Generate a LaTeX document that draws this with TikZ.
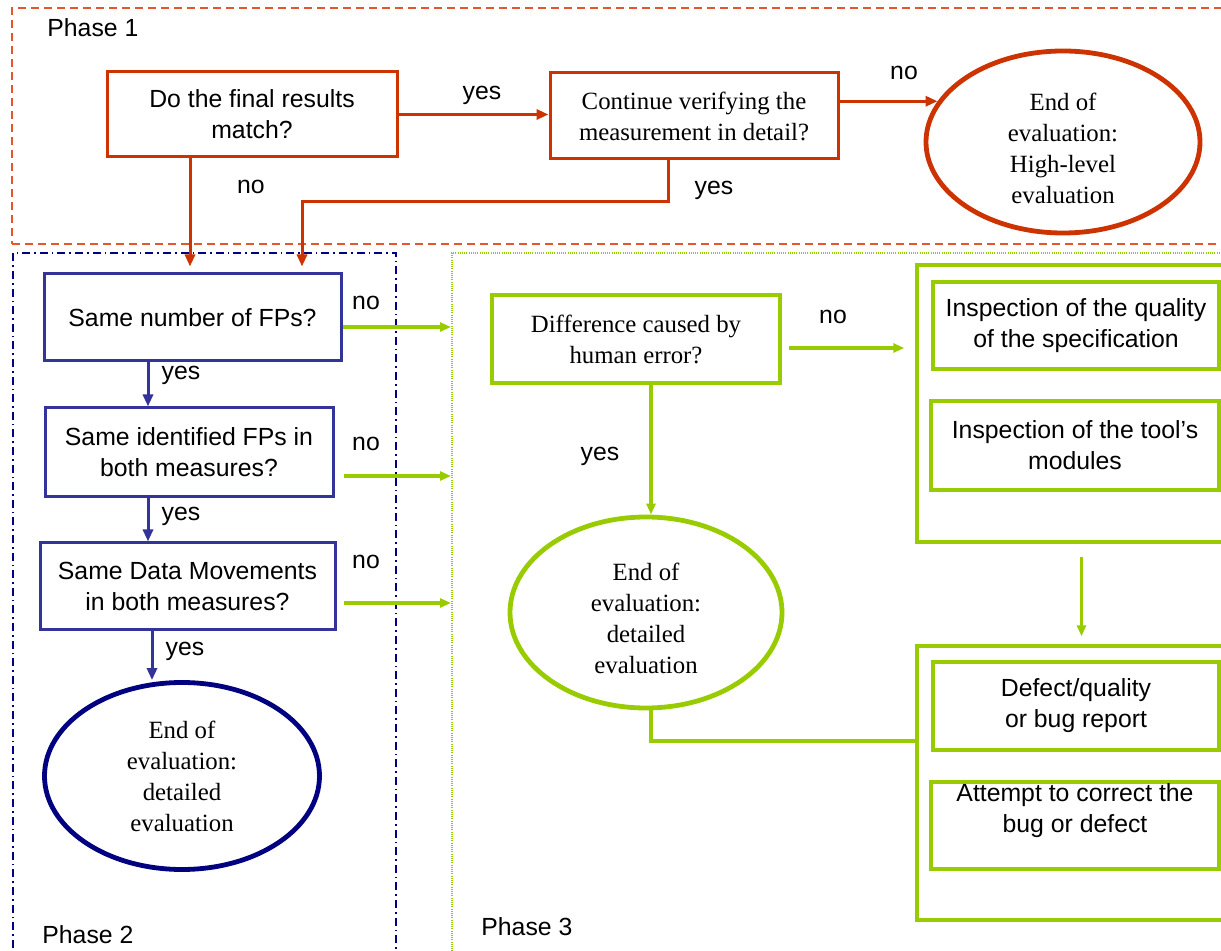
\documentclass[tikz,border=0pt]{standalone}
\usepackage{fontspec}
\setmainfont{Liberation Serif}
\setsansfont{Liberation Sans}
\usetikzlibrary{arrows.meta,shapes.geometric}

\definecolor{phred}{HTML}{CC3300}
\definecolor{phframe}{HTML}{E4572E}
\definecolor{phblue}{HTML}{333399}
\definecolor{phnavy}{HTML}{000080}
\definecolor{phgreen}{HTML}{99CC00}

\begin{document}
\begin{tikzpicture}[x=0.5pt,y=-0.5pt,
  font=\sffamily\fontsize{12.4}{15.5}\selectfont,
  q/.style={rectangle,draw,line width=1.5pt,align=center,inner sep=0pt},
  qs/.style={q,font=\rmfamily\fontsize{12.4}{15.5}\selectfont},
  qg/.style={q,draw=phgreen,line width=1.7pt},
  e/.style={ellipse,draw,line width=2.4pt,align=center,inner sep=0pt,
    font=\rmfamily\fontsize{12.4}{15.5}\selectfont},
  etxt/.style={inner sep=0pt,align=center,yshift=-3pt,
    font=\rmfamily\fontsize{12.4}{15.5}\selectfont},
  lbl/.style={inner sep=0pt},
  rarr/.style={-{Triangle[length=6pt,width=5pt]},draw=phred,line width=1.5pt},
  barr/.style={-{Triangle[length=6pt,width=5pt]},draw=phblue,line width=1.5pt},
  garr/.style={-{Triangle[length=5.5pt,width=4.5pt]},draw=phgreen,line width=1.7pt},
  gline/.style={draw=phgreen,line width=1.7pt}]
\useasboundingbox (0,0) rectangle (1221,951);
\clip (0,0) rectangle (1221,951);
% phase frames
\node[draw=phframe,line width=0.8pt,dash pattern=on 4pt off 2.5pt,
  minimum width=614pt,minimum height=118pt,inner sep=0pt] (P1) at (626,126) {};
\node[draw=phnavy,line width=0.8pt,dash pattern=on 4pt off 2pt on 0.8pt off 2pt,
  minimum width=191.5pt,minimum height=356pt,inner sep=0pt] (P2) at (204.5,609) {};
\node[draw=phgreen,line width=1pt,dash pattern=on 0.5pt off 0.6pt,
  minimum width=394pt,minimum height=356pt,inner sep=0pt] (P3) at (846,609) {};
\node[lbl,anchor=west] (t1) at (47,28) {Phase 1};
\node[lbl,anchor=west] (t2) at (42,935) {Phase 2};
\node[lbl,anchor=west] (t3) at (481,927) {Phase 3};
% phase 1
\node[q,draw=phred,minimum width=145pt,minimum height=42.5pt] (A) at (252,114.5)
  {Do the final results\\match?};
\node[qs,draw=phred,minimum width=144pt,minimum height=43pt] (B) at (694,116)
  {Continue verifying the\\measurement in detail?};
\node[e,draw=phred,minimum width=137pt,minimum height=91pt,
  label={[etxt]center:End of\\evaluation:\\High-level\\evaluation}] (C) at (1063,142) {};
% phase 2
\node[q,draw=phblue,minimum width=148.5pt,minimum height=43.5pt] (D) at (192.5,317.5)
  {Same number of FPs?};
\node[q,draw=phblue,minimum width=144pt,minimum height=44.5pt] (E) at (189,452.5)
  {Same identified FPs in\\both measures?};
\node[q,draw=phblue,minimum width=147.5pt,minimum height=43.5pt] (F) at (187.5,586.5)
  {Same Data Movements\\in both measures?};
\node[e,draw=phnavy,minimum width=137.5pt,minimum height=93.5pt] (G) at (182,776)
  {End of\\evaluation:\\detailed\\evaluation};
% phase 3
\node[qg,font=\rmfamily\fontsize{12.4}{15.5}\selectfont,
  minimum width=144pt,minimum height=44pt] (H) at (636,339)
  {Difference caused by\\human error?};
\node[e,draw=phgreen,minimum width=136pt,minimum height=95.5pt,
  label={[etxt]center:End of\\evaluation:\\detailed\\evaluation}] (I) at (646,612.5) {};
\node[qg,minimum width=161.5pt,minimum height=138.5pt] (J) at (1078.5,403.5) {};
\node[qg,minimum width=143pt,minimum height=43.5pt] (J1) at (1076,325.5)
  {Inspection of the quality\\of the specification};
\node[qg,minimum width=144pt,minimum height=44.5pt] (J2) at (1075,445.5)
  {Inspection of the tool’s\\modules};
\node[qg,minimum width=161.5pt,minimum height=137pt] (K) at (1078.5,783) {};
\node[qg,minimum width=143pt,minimum height=44pt] (K1) at (1076,706)
  {Defect/quality\\or bug report};
\node[qg,minimum width=144pt,minimum height=43.5pt,
  label={[lbl,align=center,yshift=7.25pt]center:Attempt to correct the\\bug or defect}]
  (K2) at (1075,825.5) {};
% phase 1 arrows
\draw[rarr] (A.east) -- (A.east -| B.west);
\node[lbl] (yAB) at (482,95) {yes};
\draw[rarr] (B.east |- C.162) -- (C.162);
\node[lbl] (nBC) at (904,73) {no};
\draw[rarr,shorten >=3pt] ([xshift=-31pt]A.south) -- ([xshift=-31pt]A.south |- D.north);
\node[lbl] (nA) at (251,187) {no};
\draw[rarr,shorten >=3pt] ([xshift=-13pt]B.south) -- ++(0,41) -| ([xshift=54.75pt]D.north);
\node[lbl] (yB) at (714,190) {yes};
% phase 2 arrows
\draw[barr] ([xshift=-22.25pt]D.south) -- ([xshift=-22.25pt]D.south |- E.north);
\node[lbl] (yD) at (181,375) {yes};
\draw[barr] ([xshift=-20.5pt]E.south) -- ([xshift=-20.5pt]E.south |- F.north);
\node[lbl] (yE) at (181,516) {yes};
\draw[barr] ([xshift=-17.75pt]F.south) -- ([xshift=-15pt]G.north);
\node[lbl] (yF) at (185,651) {yes};
\draw[garr] ([yshift=-4.75pt]D.east) -- ([yshift=-4.75pt]D.east -| P3.west);
\node[lbl] (nD) at (366,303) {no};
\draw[garr] ([xshift=4.5pt,yshift=-11.75pt]E.east) -- ([yshift=-11.75pt]E.east -| P3.west);
\node[lbl] (nE) at (366,444) {no};
\draw[garr] ([xshift=3.5pt,yshift=-8.25pt]F.east) -- ([yshift=-8.25pt]F.east -| P3.west);
\node[lbl] (nF) at (366,562) {no};
% phase 3 arrows
\draw[garr,shorten <=3.5pt,shorten >=5.5pt] ([yshift=-4.5pt]H.east) -- ([yshift=-4.5pt]H.east -| J.west);
\node[lbl] (nH) at (833,317) {no};
\draw[garr] ([xshift=7.5pt]H.south) -- ([xshift=7.5pt]H.south |- I.north);
\node[lbl] (yH) at (600,456) {yes};
\draw[gline] ([xshift=2.5pt]I.south) |- ([yshift=21pt]K.west);
\draw[garr,shorten <=6.5pt,shorten >=4pt] ([xshift=1.5pt]J.south) -- ([xshift=1.5pt]J.south |- K.north);
\end{tikzpicture}
\end{document}
